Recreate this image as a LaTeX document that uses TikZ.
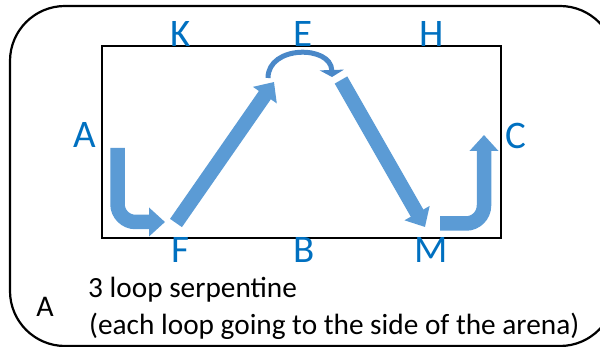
\documentclass[tikz,border=0pt]{standalone}
\usepackage{fontspec}
\setmainfont{Carlito}
\usetikzlibrary{arrows.meta}
\definecolor{arrowblue}{RGB}{91,155,213}
\definecolor{arcblue}{RGB}{74,136,200}
\definecolor{labelblue}{RGB}{0,112,192}
\begin{document}
\begin{tikzpicture}[x=1pt,y=-1pt,
  lbl/.style={text=labelblue,font=\fontsize{39}{39}\selectfont,inner sep=0pt,anchor=base},
  caption/.style={font=\fontsize{29.3}{29.3}\selectfont,inner sep=0pt,anchor=base west},
  fat/.style={draw=arrowblue,line width=14.5pt,-{Triangle[length=16pt,width=28pt]}},
  thin/.style={draw=arcblue,line width=5pt,-{Triangle[length=7pt,width=24pt]}}]
\useasboundingbox (0,0) rectangle (600,347);
% outer frame and arena
\draw[line width=2.2pt,rounded corners=55pt] (10,6) rectangle (615,346);
\draw[line width=2pt] (102,46) rectangle (501,238);
% letters
\node[lbl] (K) at (181,47) {K};
\node[lbl] (E) at (303,47) {E};
\node[lbl] (H) at (432,47) {H};
\node[lbl] (A) at (85,148) {A};
\node[lbl] (C) at (516,149) {C};
\node[lbl] (F) at (180,263) {F};
\node[lbl] (B) at (304,263) {B};
\node[lbl] (M) at (431,263) {M};
% captions
\node[font=\fontsize{30}{30}\selectfont,inner sep=0pt,anchor=base] (lab) at (45,317) {A};
\node[caption] (cap1) at (88,298) {3 loop serpentine};
\node[caption] (cap2) at (89,335) {(each loop going to the side of the arena)};
% route points
\coordinate (p1) at (117.5,148);
\coordinate (p2) at (165,222);
\coordinate (q1) at (176,223);
\coordinate (q2) at (274,82);
\coordinate (r1) at (268,78);
\coordinate (r2) at (332,77);
\coordinate (s1) at (341,80);
\coordinate (s2) at (425,227);
\coordinate (t1) at (440,223.5);
\coordinate (t2) at (484,135);
% arrows
\draw[fat,rounded corners=18pt] (p1) |- (p2);
\draw[fat] (q1) -- (q2);
\draw[thin] (r1) .. controls (268,45) and (331,45) .. (r2);
\draw[fat] (s1) -- (s2);
\draw[fat,rounded corners=18pt] (t1) -| (t2);
\end{tikzpicture}
\end{document}
